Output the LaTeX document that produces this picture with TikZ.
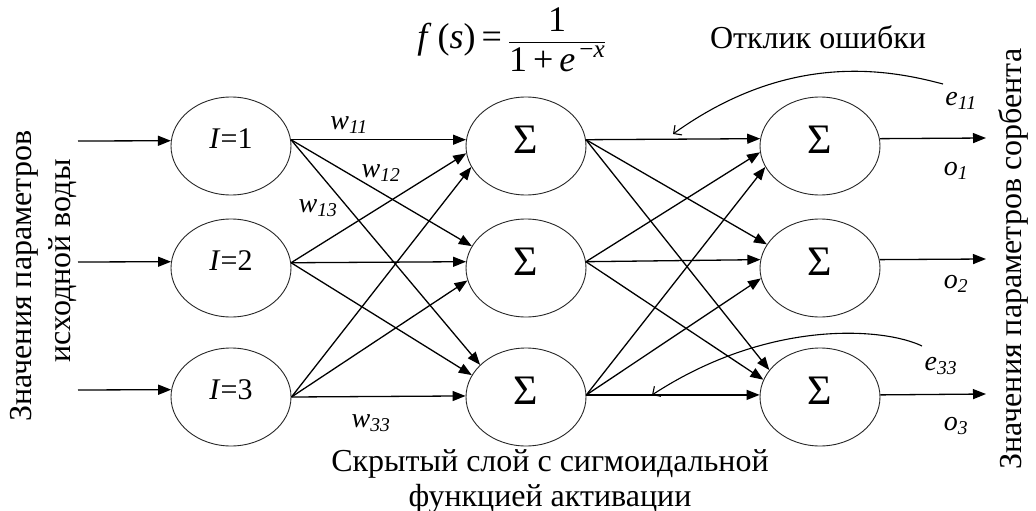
\documentclass[tikz,border=0pt]{standalone}
\usepackage{fontspec}
\setmainfont{Liberation Serif}
\usepackage{amsmath}
\usetikzlibrary{arrows.meta,shapes.geometric}
\begin{document}
\begin{tikzpicture}[x=1pt,y=-1pt,
  neuron/.style={draw=black!85, line width=0.9pt, ellipse, minimum width=120pt, minimum height=98pt, inner sep=0pt, font=\fontsize{30}{32}\selectfont},
  sig/.style={font=\fontsize{42}{44}\selectfont},
  conn/.style={line width=1.3pt, -{Triangle[length=13pt,width=10pt]}},
  fb/.style={line width=1.1pt, -{Straight Barb[length=6pt,width=12pt,line width=1.1pt]}},
  lab/.style={inner sep=0pt, font=\fontsize{28}{30}\selectfont},
  big/.style={inner sep=0pt, font=\fontsize{32}{35}\selectfont, align=center}]
\useasboundingbox (0,0) rectangle (1036,511);
% neurons
\node[neuron] (i1) at (231,146) {\raisebox{14pt}{\textit{I}=1}};
\node[neuron] (i2) at (231,268) {\raisebox{14pt}{\textit{I}=2}};
\node[neuron] (i3) at (231,397) {\raisebox{14pt}{\textit{I}=3}};
\node[neuron,sig] (h1) at (526,146) {\raisebox{12pt}{Σ}};
\node[neuron,sig] (h2) at (526,268) {\raisebox{12pt}{Σ}};
\node[neuron,sig] (h3) at (526,397) {\raisebox{12pt}{Σ}};
\node[neuron,sig] (o1) at (820,146) {\raisebox{12pt}{Σ}};
\node[neuron,sig] (o2) at (820,268) {\raisebox{12pt}{Σ}};
\node[neuron,sig] (o3) at (820,397) {\raisebox{12pt}{Σ}};
% free ends
\coordinate (a1) at (78,141);
\coordinate (a2) at (78,262);
\coordinate (a3) at (78,390);
\coordinate (b1) at (986,138);
\coordinate (b2) at (986,259);
\coordinate (b3) at (986,394);
% inputs
\draw[conn] (a1) -- (i1.175);
\draw[conn] (a2) -- (i2.174);
\draw[conn] (a3) -- (i3.173);
% input -> hidden
\draw[conn] (i1.6) -- (h1.174);
\draw[conn] (i1.6) -- (h2.158);
\draw[conn] (i1.6) -- (h3.145);
\draw[conn] (i2.5) -- (h1.187);
\draw[conn] (i2.5) -- (h2.174);
\draw[conn] (i2.5) -- (h3.158);
\draw[conn] (i3.0) -- (h1.201);
\draw[conn] (i3.0) -- (h2.192);
\draw[conn] (i3.0) -- (h3.179);
% hidden -> output
\draw[conn] (h1.6) -- (o1.173);
\draw[conn] (h1.6) -- (o2.156);
\draw[conn] (h1.6) -- (o3.152);
\draw[conn] (h2.6) -- (o1.186);
\draw[conn] (h2.6) -- (o2.172);
\draw[conn] (h2.6) -- (o3.163);
\draw[conn] (h3.2) -- (o1.201);
\draw[conn] (h3.2) -- (o2.190);
\draw[conn] (h3.2) -- (o3.178);
% outputs
\draw[conn] (o1.7) -- (b1);
\draw[conn] (o2.8) -- (b2);
\draw[conn] (o3.2) -- (b3);
% error feedback
\coordinate (e11s) at (943,84);
\coordinate (e11t) at (673,134);
\coordinate (e33s) at (922,346);
\coordinate (e33t) at (652,395);
\draw[fb] (e11s) .. controls (890,70) and (790,50) .. (e11t);
\draw[fb] (e33s) .. controls (885,328) and (770,318) .. (e33t);
% labels
\node[lab] (w11) at (349,125) {\textit{w}\textsubscript{\textit{11}}};
\node[lab] (w12) at (381,173) {\textit{w}\textsubscript{\textit{12}}};
\node[lab] (w13) at (318,208) {\textit{w}\textsubscript{\textit{13}}};
\node[lab] (w33) at (371,423) {\textit{w}\textsubscript{\textit{33}}};
\node[lab] (e11) at (961,101) {\textit{e}\textsubscript{\textit{11}}};
\node[lab] (e33) at (941,366) {\textit{e}\textsubscript{\textit{33}}};
\node[lab] (lo1) at (956,171) {\textit{o}\textsubscript{\textit{1}}};
\node[lab] (lo2) at (956,284) {\textit{o}\textsubscript{\textit{2}}};
\node[lab] (lo3) at (956,426) {\textit{o}\textsubscript{\textit{3}}};
% texts
\node[inner sep=0pt, font=\fontsize{36}{38}\selectfont] (form) at (512,40)
  {$\text{\textit{f}\,(\textit{s})\,=\,}\dfrac{\text{1}}{\text{1\,+\,\textit{e}}^{\,\text{−\textit{x}}}}$};
\node[big] (resp) at (818,37) {Отклик ошибки};
\node[big] (hid) at (550,481) {Скрытый слой с сигмоидальной\\функцией активации};
\node[big, rotate=90] (inl1) at (24,276) {Значения параметров};
\node[big, rotate=90] (inl2) at (63,261) {исходной воды};
\node[big, rotate=90] (outl) at (1013,259) {Значения параметров сорбента};
\end{tikzpicture}
\end{document}
